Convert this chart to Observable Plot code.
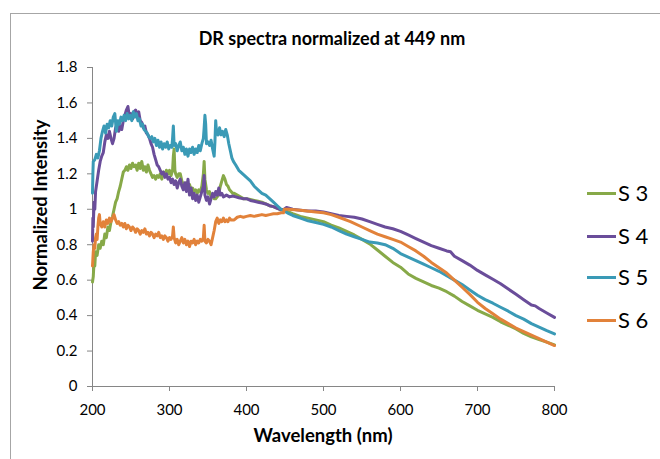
<!DOCTYPE html>
<html>
<head>
<meta charset="utf-8">
<script src="https://cdn.jsdelivr.net/npm/d3@7"></script>
<script src="https://cdn.jsdelivr.net/npm/@observablehq/plot@0.6"></script>
<style>
  html, body { margin: 0; padding: 0; background: #fff; }
  #wrap { position: relative; width: 660px; height: 459px; overflow: hidden; font-family: Lato, sans-serif; color: #000; }
  #wrap svg { position: absolute; left: 0; top: 0; }
  #frame { position: absolute; left: 10px; top: 13px; width: 700px; height: 500px; border-left: 1px solid #a6a6a6; border-top: 1px solid #a6a6a6; }
  .title { position: absolute; left: 0; width: 664px; top: 27px; line-height: 22px; text-align: center; font-weight: bold; font-size: 18px; }
  .xlabel { position: absolute; left: 92px; width: 462px; top: 424px; line-height: 22px; text-align: center; font-weight: bold; font-size: 18.5px; }
  .ylabel { position: absolute; left: 40px; top: 205px; transform: translate(-50%, -50%) rotate(-90deg); white-space: nowrap; font-weight: bold; font-size: 18.5px; line-height: 22px; }
  .leg { position: absolute; left: 587px; height: 24px; display: flex; align-items: center; }
  .leg .sw { width: 29px; height: 3px; }
  .leg span { font-size: 22px; margin-left: 2px; line-height: 24px; }
</style>
</head>
<body>
<div id="wrap"></div>
<script>
const seriesNames = ["S 3", "S 4", "S 5", "S 6"];
const seriesColors = ["#87a948", "#6a4d9a", "#3a9ab6", "#e2823a"];
const xTicks = [200, 300, 400, 500, 600, 700, 800];
const yTicks = [0, 0.2, 0.4, 0.6, 0.8, 1, 1.2, 1.4, 1.6, 1.8];

const s3 = [[200,0.59],[201,0.62],[202,0.70],[203,0.68],[204,0.76],[206,0.74],[208,0.80],[210,0.78],[212,0.82],[214,0.80],[216,0.86],[218,0.84],[220,0.90],[222,0.88],[224,0.93],[226,0.96],[228,1.00],[230,1.04],[232,1.06],[234,1.10],[236,1.13],[238,1.17],[240,1.21],[242,1.22],[244,1.24],[246,1.22],[248,1.25],[250,1.23],[252,1.26],[254,1.24],[256,1.25],[258,1.22],[260,1.26],[262,1.23],[264,1.27],[266,1.22],[268,1.24],[270,1.21],[272,1.25],[274,1.22],[276,1.20],[278,1.18],[280,1.19],[282,1.17],[284,1.19],[286,1.18],[288,1.20],[290,1.17],[292,1.21],[294,1.19],[296,1.22],[298,1.20],[300,1.22],[302,1.19],[304,1.22],[305,1.30],[306,1.34],[307,1.22],[308,1.20],[310,1.18],[312,1.20],[314,1.20],[316,1.16],[318,1.14],[320,1.13],[322,1.15],[324,1.12],[326,1.14],[328,1.11],[330,1.12],[332,1.10],[334,1.11],[336,1.09],[338,1.11],[340,1.10],[342,1.13],[344,1.20],[345,1.27],[346,1.17],[348,1.11],[350,1.09],[352,1.10],[354,1.07],[356,1.08],[358,1.06],[360,1.06],[362,1.07],[364,1.09],[366,1.13],[368,1.16],[370,1.19],[372,1.17],[374,1.14],[376,1.13],[378,1.11],[380,1.10],[382,1.09],[384,1.09],[388,1.08],[392,1.07],[396,1.06],[400,1.06],[405,1.055],[410,1.05],[415,1.045],[420,1.04],[425,1.03],[430,1.02],[435,1.015],[440,1.005],[445,0.997],[449,0.995],[460,0.975],[470,0.96],[480,0.95],[490,0.94],[500,0.93],[510,0.91],[520,0.895],[530,0.875],[540,0.855],[550,0.83],[560,0.805],[570,0.77],[580,0.735],[590,0.70],[600,0.673],[610,0.635],[620,0.61],[630,0.59],[640,0.57],[650,0.555],[660,0.535],[670,0.51],[680,0.48],[690,0.455],[700,0.43],[710,0.41],[720,0.39],[730,0.365],[740,0.345],[750,0.325],[760,0.30],[770,0.28],[780,0.265],[790,0.25],[800,0.235]];

const s4 = [[200,0.82],[200.5,0.95],[201,0.90],[202,1.04],[203,1.00],[204,1.10],[206,1.16],[208,1.22],[210,1.27],[212,1.30],[214,1.32],[216,1.38],[218,1.42],[220,1.40],[222,1.44],[224,1.40],[226,1.37],[228,1.40],[230,1.46],[232,1.48],[234,1.44],[236,1.47],[238,1.45],[240,1.50],[242,1.53],[244,1.56],[246,1.58],[248,1.52],[250,1.54],[252,1.51],[254,1.55],[256,1.56],[258,1.53],[260,1.55],[262,1.50],[264,1.49],[266,1.46],[268,1.47],[270,1.43],[272,1.42],[274,1.40],[276,1.37],[278,1.35],[280,1.31],[282,1.28],[284,1.25],[286,1.24],[288,1.22],[290,1.20],[292,1.21],[294,1.18],[296,1.20],[298,1.17],[300,1.18],[302,1.15],[304,1.17],[306,1.14],[308,1.16],[310,1.12],[312,1.15],[314,1.17],[316,1.13],[318,1.11],[320,1.15],[322,1.10],[324,1.17],[326,1.08],[328,1.12],[330,1.06],[332,1.09],[334,1.05],[336,1.08],[338,1.04],[340,1.07],[342,1.10],[344,1.13],[345,1.19],[346,1.08],[348,1.05],[350,1.07],[352,1.03],[354,1.06],[356,1.09],[358,1.07],[360,1.10],[362,1.08],[364,1.12],[366,1.08],[368,1.09],[370,1.07],[374,1.08],[378,1.07],[382,1.075],[386,1.07],[390,1.065],[395,1.06],[400,1.06],[405,1.05],[410,1.045],[415,1.04],[420,1.035],[425,1.03],[430,1.02],[435,1.015],[440,1.005],[445,0.997],[449,1.00],[452,1.01],[460,1.00],[470,0.995],[480,0.99],[490,0.99],[500,0.985],[510,0.975],[520,0.965],[530,0.96],[540,0.955],[550,0.945],[560,0.93],[570,0.915],[580,0.90],[590,0.89],[600,0.875],[610,0.855],[620,0.835],[630,0.815],[640,0.795],[650,0.78],[660,0.765],[665,0.76],[670,0.735],[680,0.71],[690,0.685],[700,0.655],[710,0.63],[720,0.605],[730,0.58],[740,0.55],[750,0.52],[760,0.49],[770,0.46],[775,0.455],[780,0.44],[790,0.415],[800,0.39]];

const s5 = [[200,1.09],[200.5,1.20],[201,1.27],[203,1.28],[205,1.31],[207,1.29],[209,1.33],[211,1.40],[213,1.44],[215,1.47],[217,1.43],[219,1.48],[221,1.46],[223,1.50],[225,1.47],[227,1.52],[229,1.54],[231,1.44],[233,1.50],[235,1.48],[237,1.52],[239,1.50],[241,1.53],[243,1.50],[245,1.54],[247,1.51],[249,1.53],[251,1.50],[253,1.55],[255,1.52],[257,1.54],[259,1.50],[261,1.51],[263,1.47],[265,1.48],[267,1.45],[269,1.44],[271,1.43],[273,1.41],[275,1.40],[277,1.41],[279,1.38],[281,1.40],[283,1.36],[285,1.39],[287,1.35],[289,1.38],[291,1.34],[293,1.37],[295,1.35],[297,1.38],[299,1.34],[301,1.36],[303,1.35],[304,1.40],[305,1.47],[306,1.36],[308,1.37],[310,1.33],[312,1.36],[314,1.38],[316,1.33],[318,1.35],[320,1.31],[322,1.34],[324,1.30],[326,1.34],[328,1.32],[330,1.35],[332,1.31],[334,1.34],[336,1.32],[338,1.36],[340,1.33],[342,1.37],[344,1.40],[345,1.46],[346,1.53],[347,1.48],[348,1.37],[350,1.38],[352,1.36],[354,1.39],[356,1.34],[358,1.30],[359,1.38],[360,1.50],[361,1.44],[363,1.42],[365,1.46],[367,1.42],[369,1.44],[371,1.41],[373,1.45],[375,1.42],[377,1.37],[379,1.33],[381,1.29],[383,1.27],[386,1.25],[390,1.22],[395,1.20],[400,1.18],[405,1.16],[410,1.13],[415,1.11],[420,1.09],[425,1.08],[430,1.06],[435,1.04],[440,1.02],[445,1.00],[449,0.99],[455,0.975],[460,0.965],[470,0.95],[480,0.935],[490,0.925],[500,0.915],[510,0.90],[520,0.88],[530,0.86],[540,0.845],[550,0.83],[560,0.815],[570,0.81],[580,0.80],[590,0.78],[600,0.75],[610,0.73],[620,0.71],[630,0.69],[640,0.67],[650,0.65],[660,0.625],[670,0.60],[680,0.575],[690,0.545],[700,0.515],[710,0.49],[720,0.47],[730,0.447],[740,0.425],[750,0.40],[760,0.38],[770,0.355],[780,0.335],[790,0.315],[800,0.297]];

const s6 = [[200,0.68],[200.5,0.72],[201,0.76],[202,0.80],[203,0.78],[204,0.84],[205,0.86],[206,0.83],[207,0.90],[208,0.95],[209,0.97],[210,0.92],[212,0.90],[214,0.93],[216,0.90],[218,0.94],[220,0.92],[222,0.95],[224,0.93],[226,0.95],[228,0.97],[230,0.94],[232,0.92],[234,0.93],[236,0.91],[238,0.92],[240,0.90],[242,0.92],[244,0.89],[246,0.91],[248,0.90],[250,0.88],[252,0.90],[254,0.89],[256,0.87],[258,0.89],[260,0.88],[262,0.86],[264,0.88],[266,0.87],[268,0.89],[270,0.86],[272,0.87],[274,0.85],[276,0.87],[278,0.86],[280,0.84],[282,0.86],[284,0.85],[286,0.87],[288,0.84],[290,0.85],[292,0.83],[294,0.85],[296,0.84],[298,0.82],[300,0.84],[302,0.83],[304,0.85],[305,0.90],[306,0.84],[308,0.81],[310,0.83],[312,0.80],[314,0.82],[316,0.84],[318,0.81],[320,0.83],[322,0.80],[324,0.82],[326,0.79],[328,0.82],[330,0.81],[332,0.83],[334,0.80],[336,0.82],[338,0.81],[340,0.83],[342,0.82],[344,0.84],[345,0.91],[346,0.82],[348,0.81],[350,0.83],[352,0.82],[354,0.80],[356,0.84],[358,0.88],[360,0.93],[362,0.95],[364,0.92],[366,0.94],[368,0.93],[370,0.95],[372,0.93],[374,0.94],[376,0.93],[378,0.95],[380,0.94],[384,0.94],[388,0.955],[392,0.96],[396,0.955],[400,0.96],[405,0.965],[410,0.96],[415,0.965],[420,0.97],[425,0.965],[430,0.97],[435,0.975],[440,0.975],[445,0.98],[448,0.98],[449,1.00],[452,1.00],[455,1.00],[470,0.995],[490,0.985],[500,0.98],[510,0.97],[520,0.955],[535,0.93],[550,0.90],[560,0.88],[570,0.86],[580,0.845],[590,0.83],[600,0.815],[610,0.79],[620,0.765],[630,0.735],[640,0.70],[650,0.67],[660,0.64],[670,0.60],[680,0.56],[690,0.52],[700,0.475],[710,0.44],[720,0.41],[730,0.38],[740,0.355],[750,0.33],[760,0.31],[770,0.29],[780,0.27],[790,0.25],[800,0.231]];

const seriesData = [s3, s4, s5, s6];
const rows = seriesData.flatMap((arr, i) => arr.map(([wl, v]) => ({series: seriesNames[i], wl, v})));

const axisGray = "#868686";
const chart = Plot.plot({
  width: 660,
  height: 459,
  marginLeft: 92,
  marginRight: 106,
  marginTop: 67,
  marginBottom: 73,
  style: {fontFamily: "Lato, sans-serif", fontSize: "15px", color: "#000", background: "transparent", overflow: "visible"},
  x: {domain: [200, 800]},
  y: {domain: [0, 1.8]},
  color: {domain: seriesNames, range: seriesColors},
  marks: [
    Plot.ruleY([0], {stroke: axisGray}),
    Plot.ruleX([200], {stroke: axisGray}),
    Plot.axisX({ticks: xTicks, tickSize: 5, tickPadding: 13, stroke: axisGray, fill: "#000", label: null, fontSize: 15}),
    Plot.axisY({ticks: yTicks, tickSize: 5, tickPadding: 10, stroke: axisGray, fill: "#000", label: null, fontSize: 15, tickFormat: d => String(+d.toFixed(1))}),
    Plot.line(rows, {x: "wl", y: "v", z: "series", stroke: "series", strokeWidth: 3, strokeLinejoin: "round", curve: "linear"})
  ]
});

const wrap = document.getElementById("wrap");
const frame = document.createElement("div");
frame.id = "frame";
wrap.appendChild(frame);
wrap.appendChild(chart);

function addDiv(cls, text) {
  const d = document.createElement("div");
  d.className = cls;
  d.textContent = text;
  wrap.appendChild(d);
  return d;
}
addDiv("title", "DR spectra normalized at 449 nm");
addDiv("xlabel", "Wavelength (nm)");
addDiv("ylabel", "Normalized Intensity");

const legendY = [193, 236, 277, 320];
seriesNames.forEach((name, i) => {
  const row = document.createElement("div");
  row.className = "leg";
  row.style.top = (legendY[i] - 12) + "px";
  const sw = document.createElement("div");
  sw.className = "sw";
  sw.style.background = seriesColors[i];
  const sp = document.createElement("span");
  sp.textContent = name;
  row.appendChild(sw);
  row.appendChild(sp);
  wrap.appendChild(row);
});
</script>
</body>
</html>
